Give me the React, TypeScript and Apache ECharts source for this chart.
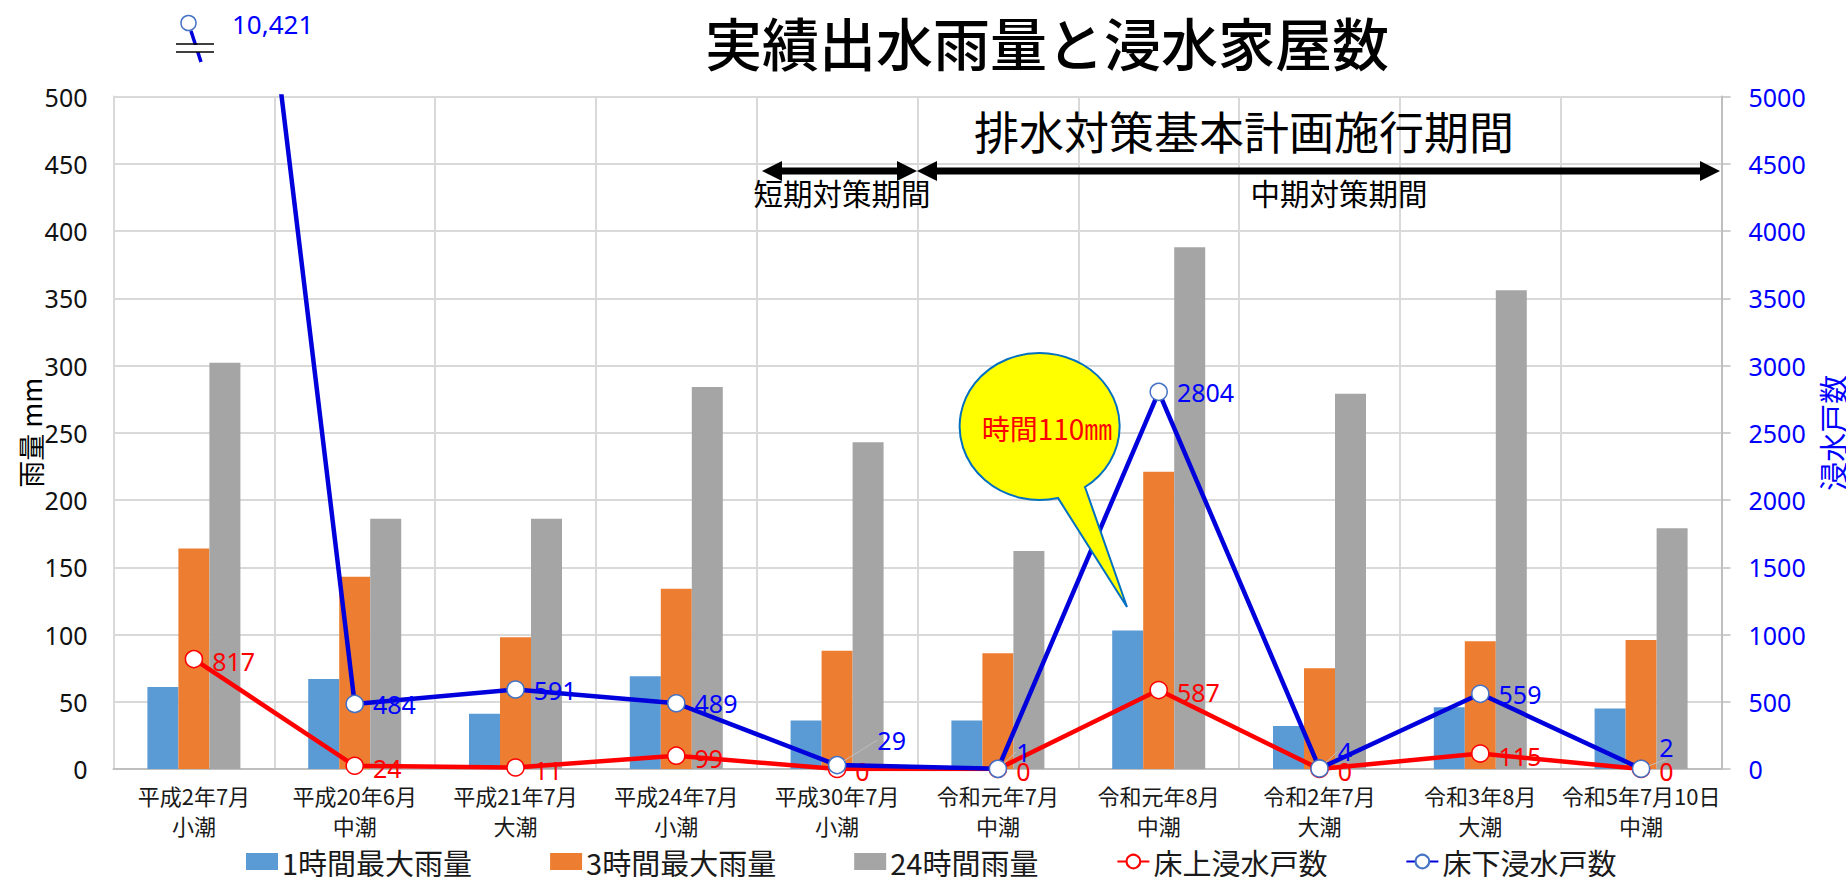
import React, { useEffect, useRef } from "react";
import * as echarts from "echarts";

const categories = [
  "平成2年7月\n小潮", "平成20年6月\n中潮", "平成21年7月\n大潮", "平成24年7月\n小潮", "平成30年7月\n小潮",
  "令和元年7月\n中潮", "令和元年8月\n中潮", "令和2年7月\n大潮", "令和3年8月\n大潮", "令和5年7月10日\n中潮",
];
const rain1h = [61, 67, 41, 69, 36, 36, 103, 32, 46, 45];
const rain3h = [164, 143, 98, 134, 88, 86, 221, 75, 95, 96];
const rain24h = [302, 186, 186, 284, 243, 162, 388, 279, 356, 179];
const floorAbove = [817, 24, 11, 99, 0, 0, 587, 0, 115, 0];
const floorBelow = [10421, 484, 591, 489, 29, 1, 2804, 4, 559, 2];
const belowLabelOffsets: Record<number, [number, number]> = {
  4: [22, -25], 5: [0, -17], 7: [0, -17], 9: [0, -22],
};

const FONT = '"Noto Sans", "Noto Sans CJK JP", sans-serif';
const CJK = '"Noto Sans CJK JP", sans-serif';
const GRID = "#D9D9D9";
const AXIS = "#BFBFBF";

echarts.graphic.registerShape(
  "speechBubble",
  echarts.graphic.extendPath("M1085 487 A80 73.5 0 1 0 1058 498 L1127 607 Z", {})
);

const arrow = (x1: number, x2: number, y: number) => ({
  type: "polygon",
  silent: true,
  shape: {
    points: [
      [x1, y], [x1 + 20, y - 10], [x1 + 20, y - 3.5], [x2 - 20, y - 3.5],
      [x2 - 20, y - 10], [x2, y], [x2 - 20, y + 10], [x2 - 20, y + 3.5],
      [x1 + 20, y + 3.5], [x1 + 20, y + 10],
    ],
  },
  style: { fill: "#000" },
  z: 20,
});

const txt = (text: string, x: number, y: number, fontSize: number, fill: string, extra: any = {}) => ({
  type: "text",
  silent: true,
  x,
  y,
  z: 21,
  style: { text, fontSize, fill, fontFamily: CJK, align: "center", verticalAlign: "middle", ...extra },
});

export default function App() {
  const ref = useRef<HTMLDivElement>(null);
  useEffect(() => {
    document.body.style.margin = "0";
    const chart = echarts.init(ref.current!, undefined, { renderer: "svg" });
    const bar = (name: string, data: number[], color: string) => ({
      name, type: "bar", data, barWidth: 31, barGap: "0%", itemStyle: { color }, z: 2,
    });
    const line = (name: string, data: any[], color: string, labelColor: string, border: string, z: number) => ({
      name, type: "line", yAxisIndex: 1, data, clip: true, z,
      symbol: "circle", symbolSize: 17,
      lineStyle: { color, width: 4.5 },
      itemStyle: { color: "#fff", borderColor: border, borderWidth: 1.5 },
      label: {
        show: true, position: "right", distance: 9, color: labelColor,
        fontSize: 25, fontFamily: FONT, offset: [0, 2],
      },
    });
    chart.setOption({
      animation: false,
      backgroundColor: "#fff",
      textStyle: { fontFamily: FONT },
      title: {
        text: "実績出水雨量と浸水家屋数", left: 1047, top: 41, padding: 0, textAlign: "center", textVerticalAlign: "middle",
        textStyle: { fontSize: 57, fontWeight: 500, color: "#000", fontFamily: CJK },
      },
      grid: { left: 113.5, top: 96.5, width: 1608, height: 672.5, containLabel: false, outerBoundsMode: "none" },
      legend: {
        left: 246, top: 847, padding: 0, itemGap: 78, itemWidth: 32, itemHeight: 17,
        textStyle: { fontSize: 29, color: "#1a1a1a", fontFamily: CJK, padding: [0, 0, 0, -1] },
        data: [
          { name: "1時間最大雨量", icon: "rect" },
          { name: "3時間最大雨量", icon: "rect" },
          { name: "24時間雨量", icon: "rect" },
          { name: "床上浸水戸数" },
          { name: "床下浸水戸数" },
        ],
      },
      xAxis: {
        type: "category", data: categories,
        axisTick: { show: false },
        axisLine: { lineStyle: { color: AXIS, width: 2 } },
        splitLine: { show: true, lineStyle: { color: GRID, width: 2 } },
        axisLabel: { interval: 0, fontSize: 22, lineHeight: 30, margin: 11, color: "#1a1a1a", fontFamily: CJK },
      },
      yAxis: [
        {
          type: "value", min: 0, max: 500, interval: 50,
          name: "雨量 mm", nameLocation: "middle", nameGap: 69.5, nameRotate: 90, nameMoveOverlap: false,
          nameTextStyle: { fontSize: 27, color: "#000", fontFamily: CJK },
          axisLine: { show: true, lineStyle: { color: GRID, width: 2 } },
          axisTick: { show: false },
          splitLine: { show: true, lineStyle: { color: GRID, width: 2 } },
          axisLabel: { fontSize: 25, color: "#111", margin: 26, fontFamily: FONT },
        },
        {
          type: "value", min: 0, max: 5000, interval: 500,
          name: "浸水戸数", nameLocation: "middle", nameGap: 96, nameRotate: 90, nameMoveOverlap: false,
          nameTextStyle: { fontSize: 29, color: "#0000FF", fontFamily: CJK },
          axisLine: { show: true, lineStyle: { color: AXIS, width: 2 } },
          axisTick: { show: true, length: 9, lineStyle: { color: AXIS, width: 1.5 } },
          splitLine: { show: false },
          axisLabel: { fontSize: 25, color: "#0000FF", margin: 27, fontFamily: FONT, formatter: (v: number) => String(v) },
        },
      ],
      series: [
        bar("1時間最大雨量", rain1h, "#5B9BD5"),
        bar("3時間最大雨量", rain3h, "#ED7D31"),
        bar("24時間雨量", rain24h, "#A5A5A5"),
        line("床上浸水戸数", floorAbove, "#FF0000", "#FF0000", "#FF0000", 5),
        {
          ...line(
            "床下浸水戸数",
            floorBelow.map((value, i) => ({
              value,
              label: i === 0 ? { show: false } : undefined,
              labelLine: belowLabelOffsets[i]
                ? { show: true, showAbove: true, length2: 0, lineStyle: { color: "#BFBFBF", width: 1 } }
                : undefined,
            })),
            "#0000DC", "#0000FF", "#4472C4", 6
          ),
          labelLayout: (p: any) => {
            const o = belowLabelOffsets[p.dataIndex];
            return o ? { dx: o[0], dy: o[1] } : {};
          },
        },
      ],
      graphic: [
        { type: "speechBubble", x: 0, y: 0, z: 15, silent: true, style: { fill: "#FFFF00", stroke: "#0070C0", lineWidth: 2 } },
        txt("時間110㎜", 1047, 428, 28, "#FF0000"),
        txt("排水対策基本計画施行期間", 1244, 130, 45, "#000"),
        txt("短期対策期間", 842, 192, 29.5, "#000"),
        txt("中期対策期間", 1339, 192, 29.5, "#000"),
        arrow(762, 917, 171),
        arrow(917, 1720, 171),
        { type: "circle", silent: true, z: 20, shape: { cx: 188.5, cy: 23, r: 7.5 }, style: { fill: "#fff", stroke: "#4472C4", lineWidth: 1.5 } },
        { type: "line", silent: true, z: 20, shape: { x1: 191, y1: 31, x2: 201, y2: 62 }, style: { stroke: "#0000DC", lineWidth: 3.5 } },
        { type: "rect", silent: true, z: 20, shape: { x: 176, y: 45, width: 38, height: 7 }, style: { fill: "#fff", stroke: "none" } },
        { type: "line", silent: true, z: 20, shape: { x1: 176, y1: 44, x2: 214, y2: 44 }, style: { stroke: "#000", lineWidth: 1.5 } },
        { type: "line", silent: true, z: 20, shape: { x1: 176, y1: 52, x2: 214, y2: 52 }, style: { stroke: "#000", lineWidth: 1.5 } },
        { type: "text", silent: true, z: 20, x: 232, y: 24, style: { text: "10,421", fontSize: 26, fill: "#0000FF", fontFamily: FONT, verticalAlign: "middle" } },
      ],
    });
    return () => chart.dispose();
  }, []);
  return <div ref={ref} style={{ position: "absolute", left: 0, top: 0, width: 1846, height: 877 }} />;
}
